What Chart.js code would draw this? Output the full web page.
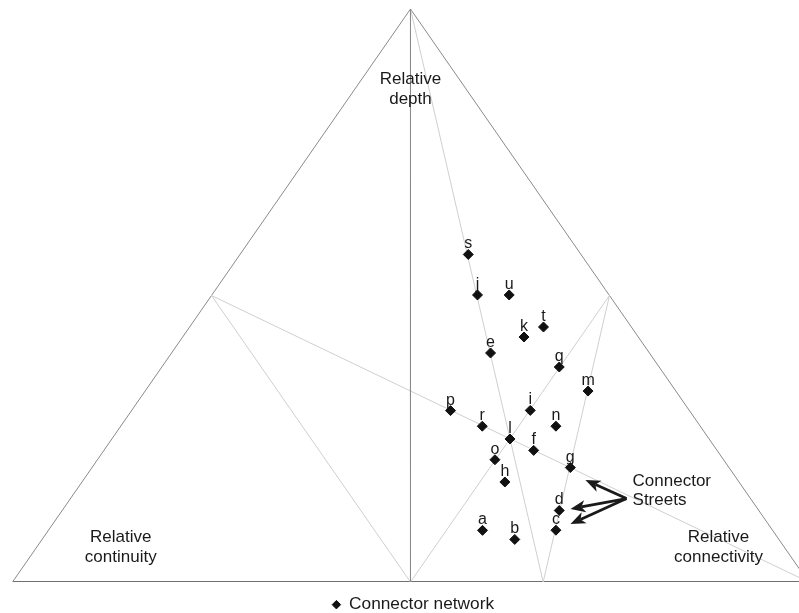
<!DOCTYPE html>
<html lang="en">
<head>
<meta charset="utf-8">
<title>Connector network</title>
<script src="https://cdn.jsdelivr.net/npm/chart.js@4.4.1/dist/chart.umd.min.js"></script>
<style>
    html, body { margin: 0; padding: 0; background: #fff; }
    #wrap { width: 799px; height: 613px; }
</style>
</head>
<body>
<div id="wrap"><canvas id="ternaryChart"></canvas></div>
<script>
// Streets (x along the base 0-100, y up to the apex 0-100)
const pointLabels = ['a', 'b', 'c', 'd', 'e', 'f', 'g', 'h', 'i', 'j', 'k', 'l', 'm', 'n', 'o', 'p', 'q', 'r', 's', 't', 'u'];
const xValues = [59.05, 63.10, 68.27, 68.69, 60.06, 65.48, 70.08, 61.86, 65.05, 58.42, 64.26, 62.50, 72.31, 68.27, 60.61, 55.03, 68.69, 59.02, 57.26, 66.71, 62.40];
const yValues = [9.01, 7.43, 9.04, 12.48, 39.97, 22.97, 19.97, 17.45, 29.95, 50.09, 42.76, 24.96, 33.33, 27.19, 21.34, 29.91, 37.52, 27.19, 57.16, 44.50, 50.09];

// Triangle frame and the guide lines inside it
const outlineSides = [[0, 0], [50, 100], [100, 0]];
const baseLine = [[0, 0], [100, 0]];
const guideLines = [
    [[50, 100], [50, 0]],
    [[25, 50], [100, 0]],
    [[25, 50], [50, 0]],
    [[50, 0], [75, 50]],
    [[50, 100], [66.67, 0]],
    [[75, 50], [66.67, 0]]
];

const cornerLabels = [
    { lines: ['Relative', 'depth'], x: 50, y: 86.0 },
    { lines: ['Relative', 'continuity'], x: 13.6, y: 6.0 },
    { lines: ['Relative', 'connectivity'], x: 88.7, y: 6.0 }
];
const calloutText = ['Connector', 'Streets'];
const calloutAt = { x: 77.9, y: 16.0 };
const arrowFrom = { x: 77.14, y: 14.57 };
const arrowTips = [{ x: 71.98, y: 17.80 }, { x: 70.10, y: 12.74 }, { x: 70.10, y: 10.12 }];

document.addEventListener('DOMContentLoaded', () => {

    const FONT = '"Liberation Sans", Arial, Helvetica, sans-serif';
    Chart.defaults.font.family = FONT;

    const toPoints = (pairs) => pairs.map(p => ({ x: p[0], y: p[1] }));
    const lineSet = (pairs, color, width) => ({
        label: '',
        data: toPoints(pairs),
        showLine: true,
        borderColor: color,
        borderWidth: width,
        pointRadius: 0,
        fill: false
    });

    // points first so they sit on top of the frame
    const datasets = [{
        label: 'Connector network',
        data: xValues.map((v, i) => ({ x: v, y: yValues[i] })),
        pointStyle: 'rectRot',
        pointRadius: 5,
        pointBackgroundColor: '#111',
        pointBorderColor: '#111',
        pointBorderWidth: 1,
        showLine: false
    }];
    guideLines.forEach(seg => datasets.push(lineSet(seg, '#cfcfcf', 1)));
    datasets.push(lineSet(outlineSides, '#8a8a8a', 1));
    datasets.push(lineSet(baseLine, '#707070', 2));
    datasets[1].borderColor = '#8a8a8a'; // the vertical line is as dark as the frame

    function drawArrow(ctx, x0, y0, x1, y1) {
        const ang = Math.atan2(y1 - y0, x1 - x0);
        const len = 15, half = 6;
        const bx = x1 - Math.cos(ang) * len, by = y1 - Math.sin(ang) * len;
        ctx.beginPath();
        ctx.moveTo(x0, y0);
        ctx.lineTo(bx + Math.cos(ang) * 4, by + Math.sin(ang) * 4);
        ctx.stroke();
        ctx.beginPath();
        ctx.moveTo(x1, y1);
        ctx.lineTo(bx - Math.sin(ang) * half, by + Math.cos(ang) * half);
        ctx.lineTo(x1 - Math.cos(ang) * (len - 4), y1 - Math.sin(ang) * (len - 4));
        ctx.lineTo(bx + Math.sin(ang) * half, by - Math.cos(ang) * half);
        ctx.closePath();
        ctx.fill();
    }

    const overlay = {
        id: 'overlay',
        afterDatasetsDraw(chart) {
            const { ctx } = chart;
            const xs = chart.scales.x, ys = chart.scales.y;
            ctx.save();
            ctx.fillStyle = '#1a1a1a';
            ctx.strokeStyle = '#1a1a1a';

            // letters above each street
            ctx.font = '16px ' + FONT;
            ctx.textAlign = 'center';
            ctx.textBaseline = 'alphabetic';
            chart.getDatasetMeta(0).data.forEach((pt, i) => {
                ctx.fillText(pointLabels[i], pt.x, pt.y - 6);
            });

            // corner names
            ctx.font = '17px ' + FONT;
            ctx.textBaseline = 'middle';
            cornerLabels.forEach(c => {
                const cx = xs.getPixelForValue(c.x), cy = ys.getPixelForValue(c.y);
                ctx.fillText(c.lines[0], cx, cy - 10);
                ctx.fillText(c.lines[1], cx, cy + 10);
            });

            // connector streets callout
            ctx.textAlign = 'left';
            const tx = xs.getPixelForValue(calloutAt.x), ty = ys.getPixelForValue(calloutAt.y);
            ctx.fillText(calloutText[0], tx, ty - 9.5);
            ctx.fillText(calloutText[1], tx, ty + 9.5);

            ctx.lineWidth = 2.8;
            const fx = xs.getPixelForValue(arrowFrom.x), fy = ys.getPixelForValue(arrowFrom.y);
            arrowTips.forEach(t => {
                drawArrow(ctx, fx, fy, xs.getPixelForValue(t.x), ys.getPixelForValue(t.y));
            });
            ctx.restore();
        }
    };

    new Chart(document.getElementById('ternaryChart'), {
        type: 'scatter',
        data: { datasets },
        options: {
            responsive: true,
            maintainAspectRatio: false,
            animation: false,
            // the right corner of the triangle lies just past the page edge;
            // the negative right padding only nudges the legend to the right
            layout: { padding: { left: 12.5, right: -15, top: 9, bottom: 0 }, autoPadding: false },
            scales: {
                x: { type: 'linear', min: 0, max: 98.81, display: false },
                y: { type: 'linear', min: 0, max: 100, display: false }
            },
            plugins: {
                tooltip: { enabled: false },
                legend: {
                    position: 'bottom',
                    maxHeight: 31,
                    labels: {
                        filter: item => item.datasetIndex === 0,
                        usePointStyle: true,
                        boxWidth: 8,
                        boxHeight: 6,
                        padding: 14,
                        color: '#1a1a1a',
                        font: { size: 17.3 }
                    }
                }
            }
        },
        plugins: [overlay]
    });
});
</script>
</body>
</html>
